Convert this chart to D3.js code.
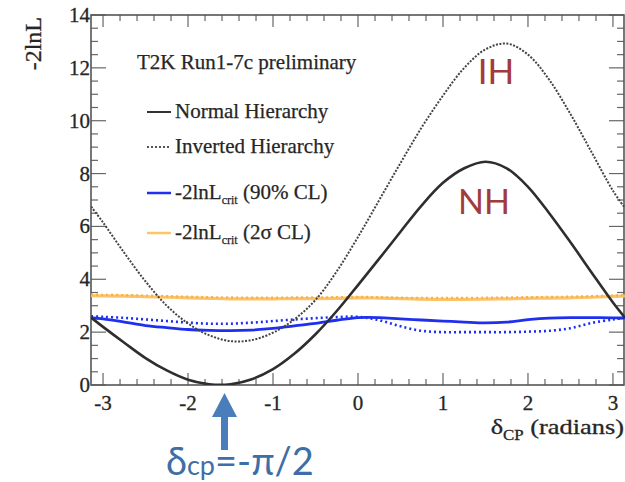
<!DOCTYPE html>
<html><head><meta charset="utf-8">
<script src="https://cdn.jsdelivr.net/npm/d3@7"></script>
<style>body{margin:0;background:#fff}svg{display:block}</style>
</head><body>
<svg id="c" width="625" height="482"></svg>
<script>
const delta = [-3.14,-3.0,-2.75,-2.5,-2.25,-2.0,-1.75,-1.5,-1.25,-1.0,-0.75,-0.5,-0.25,0,0.25,0.5,0.75,1.0,1.25,1.5,1.75,2.0,2.25,2.5,2.75,3.0,3.14];
const nh = [2.55,2.2,1.6,1.02,0.55,0.2,0.03,0.03,0.22,0.6,1.18,1.92,2.8,3.78,4.78,5.8,6.8,7.65,8.2,8.45,8.2,7.5,6.5,5.4,4.25,3.12,2.55];
const ih = [6.75,6.15,5.0,3.92,3.0,2.33,1.88,1.66,1.7,1.98,2.48,3.22,4.3,5.6,7.0,8.4,9.75,10.95,12.0,12.7,12.92,12.5,11.55,10.25,8.8,7.35,6.7];
const crit90NH = [2.55,2.5,2.38,2.25,2.17,2.1,2.07,2.06,2.08,2.14,2.24,2.33,2.45,2.55,2.55,2.5,2.46,2.42,2.38,2.35,2.38,2.47,2.53,2.55,2.55,2.54,2.54];
const crit90IH = [2.6,2.58,2.54,2.48,2.42,2.36,2.32,2.32,2.36,2.42,2.48,2.53,2.57,2.58,2.45,2.22,2.05,2.0,2.0,2.0,2.0,2.02,2.05,2.15,2.35,2.48,2.55];
const crit2sNH = [3.38,3.37,3.36,3.34,3.32,3.3,3.28,3.26,3.26,3.26,3.27,3.27,3.28,3.3,3.29,3.27,3.25,3.24,3.24,3.25,3.26,3.28,3.29,3.3,3.32,3.35,3.37];
const crit2sIH = [3.42,3.41,3.4,3.38,3.36,3.34,3.32,3.31,3.3,3.3,3.31,3.31,3.32,3.33,3.32,3.3,3.29,3.29,3.29,3.3,3.31,3.32,3.33,3.34,3.36,3.38,3.4];
const xTicks = [-3,-2,-1,0,1,2,3];
const yTicks = [0,2,4,6,8,10,12,14];
const legendTitle = "T2K Run1-7c preliminary";

const svg = d3.select("#c");
const x = d3.scaleLinear().domain([-Math.PI, Math.PI]).range([91, 625]);
const y = d3.scaleLinear().domain([0, 14]).range([385, 15]);
const serif = "'Liberation Serif','DejaVu Serif',serif";
const sans = "Lato,'Open Sans',sans-serif";
const ink = "#262626";

// minor ticks
const xMinor = d3.range(-3.2, 3.21, 0.2).filter(v => Math.abs(v - Math.round(v)) > 1e-6 && v > -Math.PI && v < Math.PI);
const yMinor = d3.range(0, 14.01, 0.5).filter(v => Math.abs(v/2 - Math.round(v/2)) > 1e-6);
const g = svg.append("g").attr("stroke", "#666").attr("stroke-width", 1.2);
xTicks.forEach(v => {
  g.append("line").attr("x1", x(v)).attr("x2", x(v)).attr("y1", y(0)).attr("y2", y(0) - 12);
  g.append("line").attr("x1", x(v)).attr("x2", x(v)).attr("y1", y(14)).attr("y2", y(14) + 12);
});
xMinor.forEach(v => {
  g.append("line").attr("x1", x(v)).attr("x2", x(v)).attr("y1", y(0)).attr("y2", y(0) - 6);
  g.append("line").attr("x1", x(v)).attr("x2", x(v)).attr("y1", y(14)).attr("y2", y(14) + 6);
});
yTicks.forEach(v => {
  g.append("line").attr("x1", 91).attr("x2", 106).attr("y1", y(v)).attr("y2", y(v));
  g.append("line").attr("x1", 624).attr("x2", 609).attr("y1", y(v)).attr("y2", y(v));
});
yMinor.forEach(v => {
  g.append("line").attr("x1", 91).attr("x2", 98).attr("y1", y(v)).attr("y2", y(v));
  g.append("line").attr("x1", 624).attr("x2", 617).attr("y1", y(v)).attr("y2", y(v));
});
svg.append("rect").attr("x", 91).attr("y", 15).attr("width", 533).attr("height", 370)
  .attr("fill", "none").attr("stroke", "#555").attr("stroke-width", 1.6);

// tick labels
svg.append("g").selectAll("text").data(xTicks).join("text")
  .attr("x", d => x(d)).attr("y", 410).attr("text-anchor", "middle")
  .attr("font-family", serif).attr("font-size", 21).attr("fill", ink).attr("stroke", ink).attr("stroke-width", 0.3).text(d => d);
svg.append("g").selectAll("text").data(yTicks).join("text")
  .attr("x", 90).attr("y", d => y(d) + 7).attr("text-anchor", "end")
  .attr("font-family", serif).attr("font-size", 21).attr("fill", ink).attr("stroke", ink).attr("stroke-width", 0.3).text(d => d);

// axis titles
svg.append("text").attr("transform", "translate(41,17) rotate(-90)").attr("text-anchor", "end")
  .attr("font-family", serif).attr("font-size", 24).attr("fill", ink).attr("stroke", ink).attr("stroke-width", 0.3).text("-2lnL");
const xt = svg.append("text").attr("transform", "translate(624,434) scale(1.2,1)").attr("text-anchor", "end")
  .attr("font-family", serif).attr("font-size", 22).attr("fill", ink).attr("stroke", ink).attr("stroke-width", 0.3);
xt.append("tspan").text("δ");
xt.append("tspan").attr("dy", 6).attr("font-size", 14).text("CP");
xt.append("tspan").attr("dy", -6).text(" (radians)");

// curves
const line = vals => d3.line().x((d, i) => x(delta[i])).y(d => y(d)).curve(d3.curveCatmullRom.alpha(0.5))(vals);
svg.append("clipPath").attr("id", "pc").append("rect").attr("x", 91).attr("y", 15).attr("width", 534).attr("height", 370);
const plot = svg.append("g").attr("clip-path", "url(#pc)");
plot.append("path").attr("d", line(crit2sNH)).attr("fill", "none").attr("stroke", "#fbc46a").attr("stroke-width", 3.2);
plot.append("path").attr("d", line(crit2sIH)).attr("fill", "none").attr("stroke", "#f7b247").attr("stroke-width", 2.4).attr("stroke-dasharray", "2,3");
plot.append("path").attr("d", line(crit90NH)).attr("fill", "none").attr("stroke", "#1f2ff0").attr("stroke-width", 2.8);
plot.append("path").attr("d", line(crit90IH)).attr("fill", "none").attr("stroke", "#1f2ff0").attr("stroke-width", 2.6).attr("stroke-dasharray", "2,3");
plot.append("path").attr("d", line(ih)).attr("fill", "none").attr("stroke", "#444").attr("stroke-width", 2).attr("stroke-dasharray", "2,1.5");
plot.append("path").attr("d", line(nh)).attr("fill", "none").attr("stroke", "#2e2e2e").attr("stroke-width", 2.6);

// legend
const lg = svg.append("g").attr("font-family", serif).attr("font-size", 21).attr("fill", ink).attr("stroke", ink).attr("stroke-width", 0.25);
lg.append("text").attr("x", 137).attr("y", 69).text(legendTitle);
const items = [
  {y: 112, color: "#333", dash: null, w: 2},
  {y: 147, color: "#555", dash: "2,2", w: 2},
  {y: 193, color: "#1f2ff0", dash: null, w: 2.5},
  {y: 233, color: "#fbc46a", dash: null, w: 2.5}
];
items.forEach(it => {
  svg.append("line").attr("x1", 147).attr("x2", 171).attr("y1", it.y).attr("y2", it.y)
    .attr("stroke", it.color).attr("stroke-width", it.w).attr("stroke-dasharray", it.dash);
});
lg.append("text").attr("x", 175).attr("y", 118).text("Normal Hierarchy");
lg.append("text").attr("x", 175).attr("y", 153).text("Inverted Hierarchy");
const t3 = lg.append("text").attr("x", 175).attr("y", 199);
t3.append("tspan").text("-2lnL");
t3.append("tspan").attr("dy", 5).attr("font-size", 12).text("crit");
t3.append("tspan").attr("dy", -5).text(" (90% CL)");
const t4 = lg.append("text").attr("x", 175).attr("y", 239);
t4.append("tspan").text("-2lnL");
t4.append("tspan").attr("dy", 5).attr("font-size", 12).text("crit");
t4.append("tspan").attr("dy", -5).text(" (2σ CL)");

// annotations
svg.append("text").attr("x", 496).attr("y", 84).attr("text-anchor", "middle")
  .attr("font-family", sans).attr("font-size", 35).attr("fill", "#a23b3b").text("IH");
svg.append("text").attr("x", 484).attr("y", 214).attr("text-anchor", "middle")
  .attr("font-family", sans).attr("font-size", 34).attr("fill", "#a23b3b").text("NH");

const ax = x(-Math.PI / 2);
const arrow = d3.path();
arrow.moveTo(ax, 393); arrow.lineTo(ax + 12.5, 417); arrow.lineTo(ax + 3.5, 417); arrow.lineTo(ax + 3.5, 450);
arrow.lineTo(ax - 3.5, 450); arrow.lineTo(ax - 3.5, 417); arrow.lineTo(ax - 12.5, 417); arrow.closePath();
svg.append("path").attr("d", arrow.toString()).attr("fill", "#4a7ebb");
const at = svg.append("text").attr("x", 166).attr("y", 475).attr("font-family", sans).attr("font-size", 38).attr("fill", "#3e6ea6");
at.append("tspan").text("δ");
at.append("tspan").attr("font-size", 27).text("cp");
at.append("tspan").text("=-π/2");
</script>
</body></html>
